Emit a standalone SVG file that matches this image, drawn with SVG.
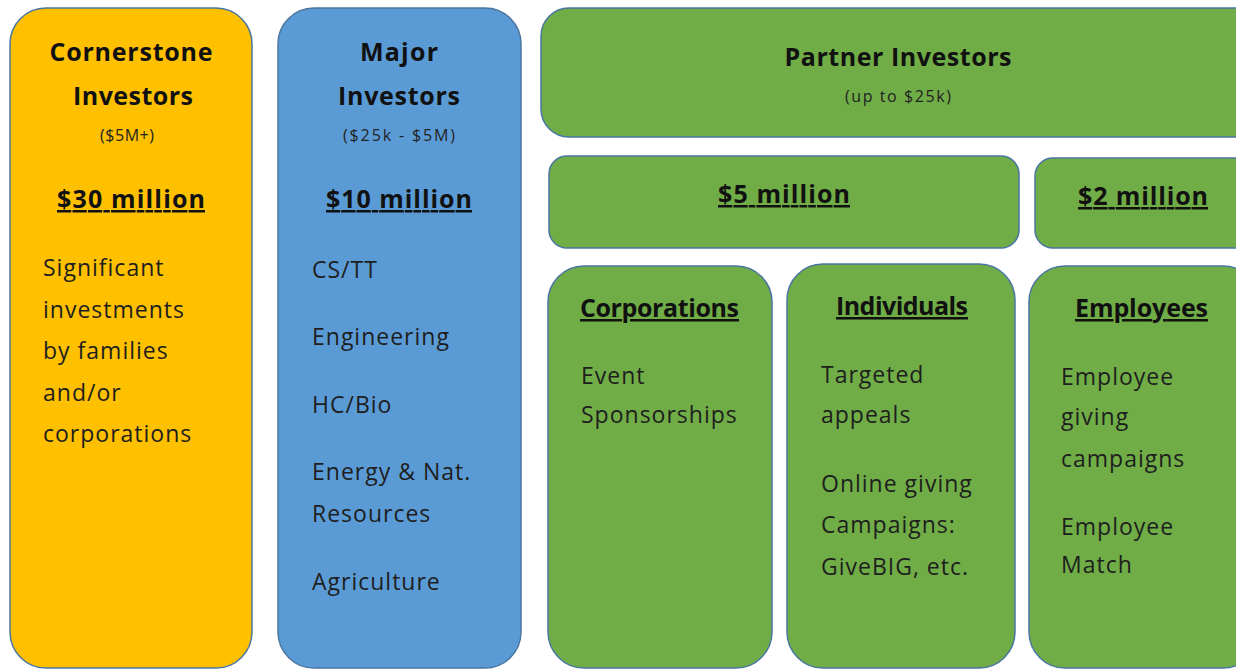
<svg xmlns="http://www.w3.org/2000/svg" width="1236" height="670" viewBox="0 0 1236 670">
<style>
.box{stroke:#4a76a0;stroke-width:1.5}
.y{fill:#ffc000}
.b{fill:#5b9bd5}
.g{fill:#70ad47}
.h{font-family:"Open Sans","Liberation Sans",sans-serif;font-weight:bold;font-size:25px;fill:#111;text-anchor:middle}
.u{text-decoration:underline}
.s{font-family:"Open Sans","Liberation Sans",sans-serif;font-size:16px;fill:#222;text-anchor:middle}
.t{font-family:"Open Sans","Liberation Sans",sans-serif;font-size:23px;fill:#1e1e1e;letter-spacing:1px}
</style>
<rect width="1236" height="670" fill="#fff"/>
<g id="cornerstone">
<rect class="box y" x="10" y="8" width="242" height="660" rx="36"/>
<text class="h" x="131" y="61" textLength="163" lengthAdjust="spacing">Cornerstone</text>
<text class="h" x="133" y="105" textLength="120" lengthAdjust="spacing">Investors</text>
<text class="s" x="127" y="141" textLength="54" lengthAdjust="spacing">($5M+)</text>
<text class="h u" x="131" y="208" textLength="148" lengthAdjust="spacing">$30 million</text>
<text class="t" x="43" y="276">Significant</text>
<text class="t" x="43" y="318">investments</text>
<text class="t" x="43" y="359">by families</text>
<text class="t" x="43" y="401">and/or</text>
<text class="t" x="43" y="442">corporations</text>
</g>
<g id="major">
<rect class="box b" x="278" y="8" width="243" height="660" rx="36"/>
<text class="h" x="399" y="61" textLength="78" lengthAdjust="spacing">Major</text>
<text class="h" x="399" y="105" textLength="122" lengthAdjust="spacing">Investors</text>
<text class="s" x="399" y="141" textLength="112" lengthAdjust="spacing">($25k - $5M)</text>
<text class="h u" x="399" y="208" textLength="146" lengthAdjust="spacing">$10 million</text>
<text class="t" x="312" y="278">CS/TT</text>
<text class="t" x="312" y="345">Engineering</text>
<text class="t" x="312" y="413">HC/Bio</text>
<text class="t" x="312" y="480">Energy &amp; Nat.</text>
<text class="t" x="312" y="522">Resources</text>
<text class="t" x="312" y="590">Agriculture</text>
</g>
<g id="partner">
<rect class="box g" x="541" y="8" width="730" height="129" rx="28"/>
<text class="h" x="898" y="66" textLength="227" lengthAdjust="spacing">Partner Investors</text>
<text class="s" x="898" y="102" textLength="106" lengthAdjust="spacing">(up to $25k)</text>
</g>
<g id="five-million">
<rect class="box g" x="549" y="156" width="470" height="92" rx="18"/>
<text class="h u" x="784" y="203" textLength="132" lengthAdjust="spacing">$5 million</text>
</g>
<g id="two-million">
<rect class="box g" x="1035" y="158" width="230" height="90" rx="18"/>
<text class="h u" x="1143" y="205" textLength="130" lengthAdjust="spacing">$2 million</text>
</g>
<g id="corporations">
<rect class="box g" x="548" y="266" width="224" height="402" rx="36"/>
<text class="h u" x="659.5" y="317" textLength="159" lengthAdjust="spacing">Corporations</text>
<text class="t" x="581" y="384">Event</text>
<text class="t" x="581" y="423">Sponsorships</text>
</g>
<g id="individuals">
<rect class="box g" x="787" y="264" width="228" height="404" rx="36"/>
<text class="h u" x="902" y="315" textLength="132" lengthAdjust="spacing">Individuals</text>
<text class="t" x="821" y="383">Targeted</text>
<text class="t" x="821" y="423">appeals</text>
<text class="t" x="821" y="492">Online giving</text>
<text class="t" x="821" y="533">Campaigns:</text>
<text class="t" x="821" y="575">GiveBIG, etc.</text>
</g>
<g id="employees">
<rect class="box g" x="1029" y="266" width="230" height="402" rx="36"/>
<text class="h u" x="1141.5" y="317" textLength="133" lengthAdjust="spacing">Employees</text>
<text class="t" x="1061" y="385">Employee</text>
<text class="t" x="1061" y="425">giving</text>
<text class="t" x="1061" y="467">campaigns</text>
<text class="t" x="1061" y="535">Employee</text>
<text class="t" x="1061" y="573">Match</text>
</g>
<g id="connectors"/>
</svg>
